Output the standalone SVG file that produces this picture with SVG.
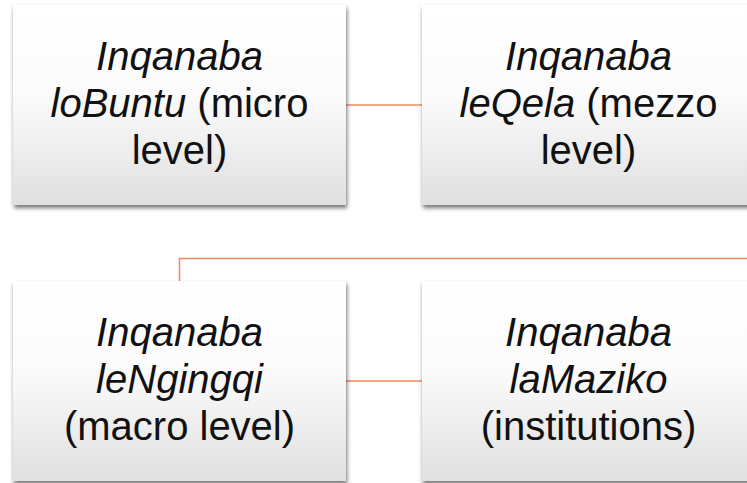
<svg xmlns="http://www.w3.org/2000/svg" width="747" height="483" viewBox="0 0 747 483">
  <defs>
    <linearGradient id="boxFill" x1="0" y1="0" x2="0" y2="1">
      <stop offset="0" stop-color="#ffffff"/>
      <stop offset="0.45" stop-color="#fbfbfb"/>
      <stop offset="1" stop-color="#e0e0e0"/>
    </linearGradient>
    <filter id="shadow" x="-10%" y="-10%" width="120%" height="125%">
      <feDropShadow dx="1" dy="3" stdDeviation="2.2" flood-color="#000" flood-opacity="0.55"/>
    </filter>
  </defs>
  <style>
    .box { fill: url(#boxFill); filter: url(#shadow); }
    .lbl { font-family: "Liberation Sans", Arial, sans-serif; font-size: 40px; fill: #111; text-anchor: middle; }
    .it { font-style: italic; }
    .conn { fill: none; stroke: #ED8B5C; stroke-width: 1.5; }
  </style>
  <rect width="747" height="483" fill="#ffffff"/>

  <g id="connectors">
    <line class="conn" x1="346" y1="105" x2="422" y2="105"/>
    <polyline class="conn" points="179.5,281 179.5,258.5 747,258.5"/>
    <line class="conn" x1="346" y1="381" x2="422" y2="381"/>
  </g>

  <g id="node-micro">
    <rect class="box" x="13" y="5" width="333" height="200"/>
    <text class="lbl" x="179.5" y="70"><tspan class="it">Inqanaba</tspan></text>
    <text class="lbl" x="179.5" y="117"><tspan class="it">loBuntu</tspan> (micro</text>
    <text class="lbl" x="179.5" y="164">level)</text>
  </g>

  <g id="node-mezzo">
    <rect class="box" x="422" y="5" width="333" height="200"/>
    <text class="lbl" x="588.5" y="70"><tspan class="it">Inqanaba</tspan></text>
    <text class="lbl" x="588.5" y="117"><tspan class="it">leQela</tspan> (mezzo</text>
    <text class="lbl" x="588.5" y="164">level)</text>
  </g>

  <g id="node-macro">
    <rect class="box" x="13" y="281" width="333" height="200"/>
    <text class="lbl" x="179.5" y="346"><tspan class="it">Inqanaba</tspan></text>
    <text class="lbl" x="179.5" y="393"><tspan class="it">leNgingqi</tspan></text>
    <text class="lbl" x="179.5" y="440">(macro level)</text>
  </g>

  <g id="node-institutions">
    <rect class="box" x="422" y="281" width="333" height="200"/>
    <text class="lbl" x="588.5" y="346"><tspan class="it">Inqanaba</tspan></text>
    <text class="lbl" x="588.5" y="393"><tspan class="it">laMaziko</tspan></text>
    <text class="lbl" x="588.5" y="440">(institutions)</text>
  </g>
</svg>
